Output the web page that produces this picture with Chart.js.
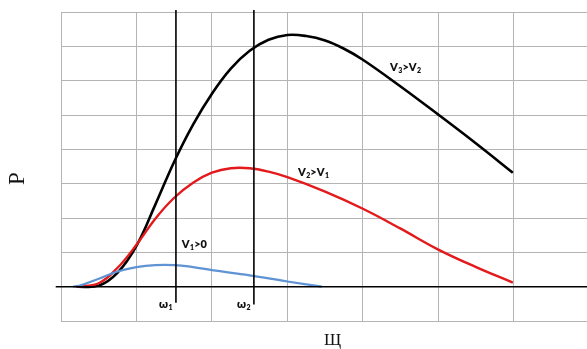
<!DOCTYPE html>
<html>
<head>
<meta charset="utf-8">
<script src="https://cdn.jsdelivr.net/npm/chart.js@4"></script>
<style>
  html, body { margin: 0; padding: 0; background: #fff; overflow: hidden; }
  #wrap { width: 587px; height: 349px; }
</style>
</head>
<body>
<div id="wrap"><canvas id="chart"></canvas></div>
<script>
// curves (x in grid columns, y in grid rows)
const blackX = [0.2, 0.5, 0.75, 1.0, 1.25, 1.5, 1.75, 2.0, 2.25, 2.5, 2.75, 3.0, 3.25, 3.5, 3.75, 4.0, 4.5, 5.0, 5.5, 5.987];
const blackY = [0, 0.03, 0.41, 1.19, 2.39, 3.64, 4.72, 5.62, 6.35, 6.87, 7.19, 7.33, 7.3, 7.17, 6.93, 6.61, 5.83, 5.01, 4.17, 3.32];

const redX = [0.2, 0.5, 0.75, 1.0, 1.25, 1.5, 1.75, 2.0, 2.25, 2.5, 2.75, 3.0, 3.5, 4.0, 4.5, 5.0, 5.5, 5.987];
const redY = [0, 0.1, 0.55, 1.22, 1.98, 2.59, 3.03, 3.32, 3.45, 3.45, 3.35, 3.19, 2.77, 2.27, 1.69, 1.08, 0.57, 0.12];

const blueX = [0.159, 0.25, 0.5, 0.75, 1.0, 1.25, 1.5, 1.75, 2.0, 2.5, 3.0, 3.457];
const blueY = [0, 0.03, 0.23, 0.44, 0.57, 0.63, 0.63, 0.57, 0.48, 0.33, 0.15, 0];

const omegaX = [1.523, 2.556];
const omegaLabels = ['1', '2'];
const axisLineX = [-0.07, 7];

// [main text, subscript, main, subscript...], anchor x, y
const curveLabels = [
  { parts: ['V', '3', '>V', '2'], x: 4.36, y: 6.38 },
  { parts: ['V', '2', '>V', '1'], x: 3.14, y: 3.32 },
  { parts: ['V', '1', '>0', ''], x: 1.60, y: 1.22 }
];

const pts = (xs, ys) => xs.map((x, i) => ({ x: x, y: ys[i] }));

const labelPlugin = {
  id: 'labels',
  afterDatasetsDraw(chart) {
    const { ctx, scales: { x, y } } = chart;
    ctx.save();
    ctx.fillStyle = '#111';
    ctx.textBaseline = 'middle';
    ctx.textAlign = 'left';
    curveLabels.forEach(l => {
      let px = x.getPixelForValue(l.x);
      const py = y.getPixelForValue(l.y);
      l.parts.forEach((p, i) => {
        const sub = i % 2 === 1;
        ctx.font = sub ? '800 7px Lato' : '800 11px Lato';
        ctx.fillText(p, px, sub ? py + 3 : py);
        px += ctx.measureText(p).width + (sub ? 0 : 0.5);
      });
    });
    // omega labels under the axis
    omegaX.forEach((v, i) => {
      const px = x.getPixelForValue(v) - 17;
      const py = y.getPixelForValue(-0.52);
      ctx.font = '800 11px Lato';
      ctx.fillText('ω', px, py);
      const w = ctx.measureText('ω').width;
      ctx.font = '800 7px Lato';
      ctx.fillText(omegaLabels[i], px + w + 0.5, py + 3);
    });
    // axis titles
    ctx.font = '23px "Liberation Serif"';
    ctx.textAlign = 'center';
    ctx.save();
    ctx.translate(18, y.getPixelForValue(3.15));
    ctx.rotate(-Math.PI / 2);
    ctx.fillText('P', 0, 0);
    ctx.restore();
    ctx.font = '17px "Liberation Serif"';
    ctx.fillText('Щ', x.getPixelForValue(3.6), 341);
    ctx.restore();
  }
};

new Chart(document.getElementById('chart'), {
  type: 'line',
  data: {
    datasets: [
      { data: pts(axisLineX, [0, 0]), borderColor: '#000', borderWidth: 1.5, tension: 0, clip: false },
      { data: pts([omegaX[0], omegaX[0]], [8.06, -0.47]), borderColor: '#000', borderWidth: 1.6, tension: 0, clip: false },
      { data: pts([omegaX[1], omegaX[1]], [8.06, -0.52]), borderColor: '#000', borderWidth: 1.6, tension: 0, clip: false },
      { label: 'V1>0', data: pts(blueX, blueY), borderColor: '#5f93d3', borderWidth: 2.2, tension: 0.4 },
      { label: 'V2>V1', data: pts(redX, redY), borderColor: '#e3191b', borderWidth: 2.4, tension: 0.4 },
      { label: 'V3>V2', data: pts(blackX, blackY), borderColor: '#000', borderWidth: 2.6, tension: 0.4 }
    ]
  },
  options: {
    responsive: true,
    maintainAspectRatio: false,
    animation: false,
    events: [],
    elements: { point: { radius: 0 } },
    layout: { padding: { left: 61, top: 12, right: 0, bottom: 28 } },
    plugins: { legend: { display: false }, tooltip: { enabled: false } },
    scales: {
      x: {
        type: 'linear', min: 0, max: 6.97,
        afterBuildTicks: s => { s.ticks = [0, 1, 2, 3, 4, 5, 6].map(v => ({ value: v })); },
        ticks: { display: false },
        grid: { color: '#b4b4b4', lineWidth: 1, drawTicks: false },
        border: { display: false }
      },
      y: {
        min: -1, max: 8,
        ticks: { display: false, stepSize: 1 },
        grid: { color: '#b4b4b4', lineWidth: 1, drawTicks: false },
        border: { display: false }
      }
    }
  },
  plugins: [labelPlugin]
});
</script>
</body>
</html>
